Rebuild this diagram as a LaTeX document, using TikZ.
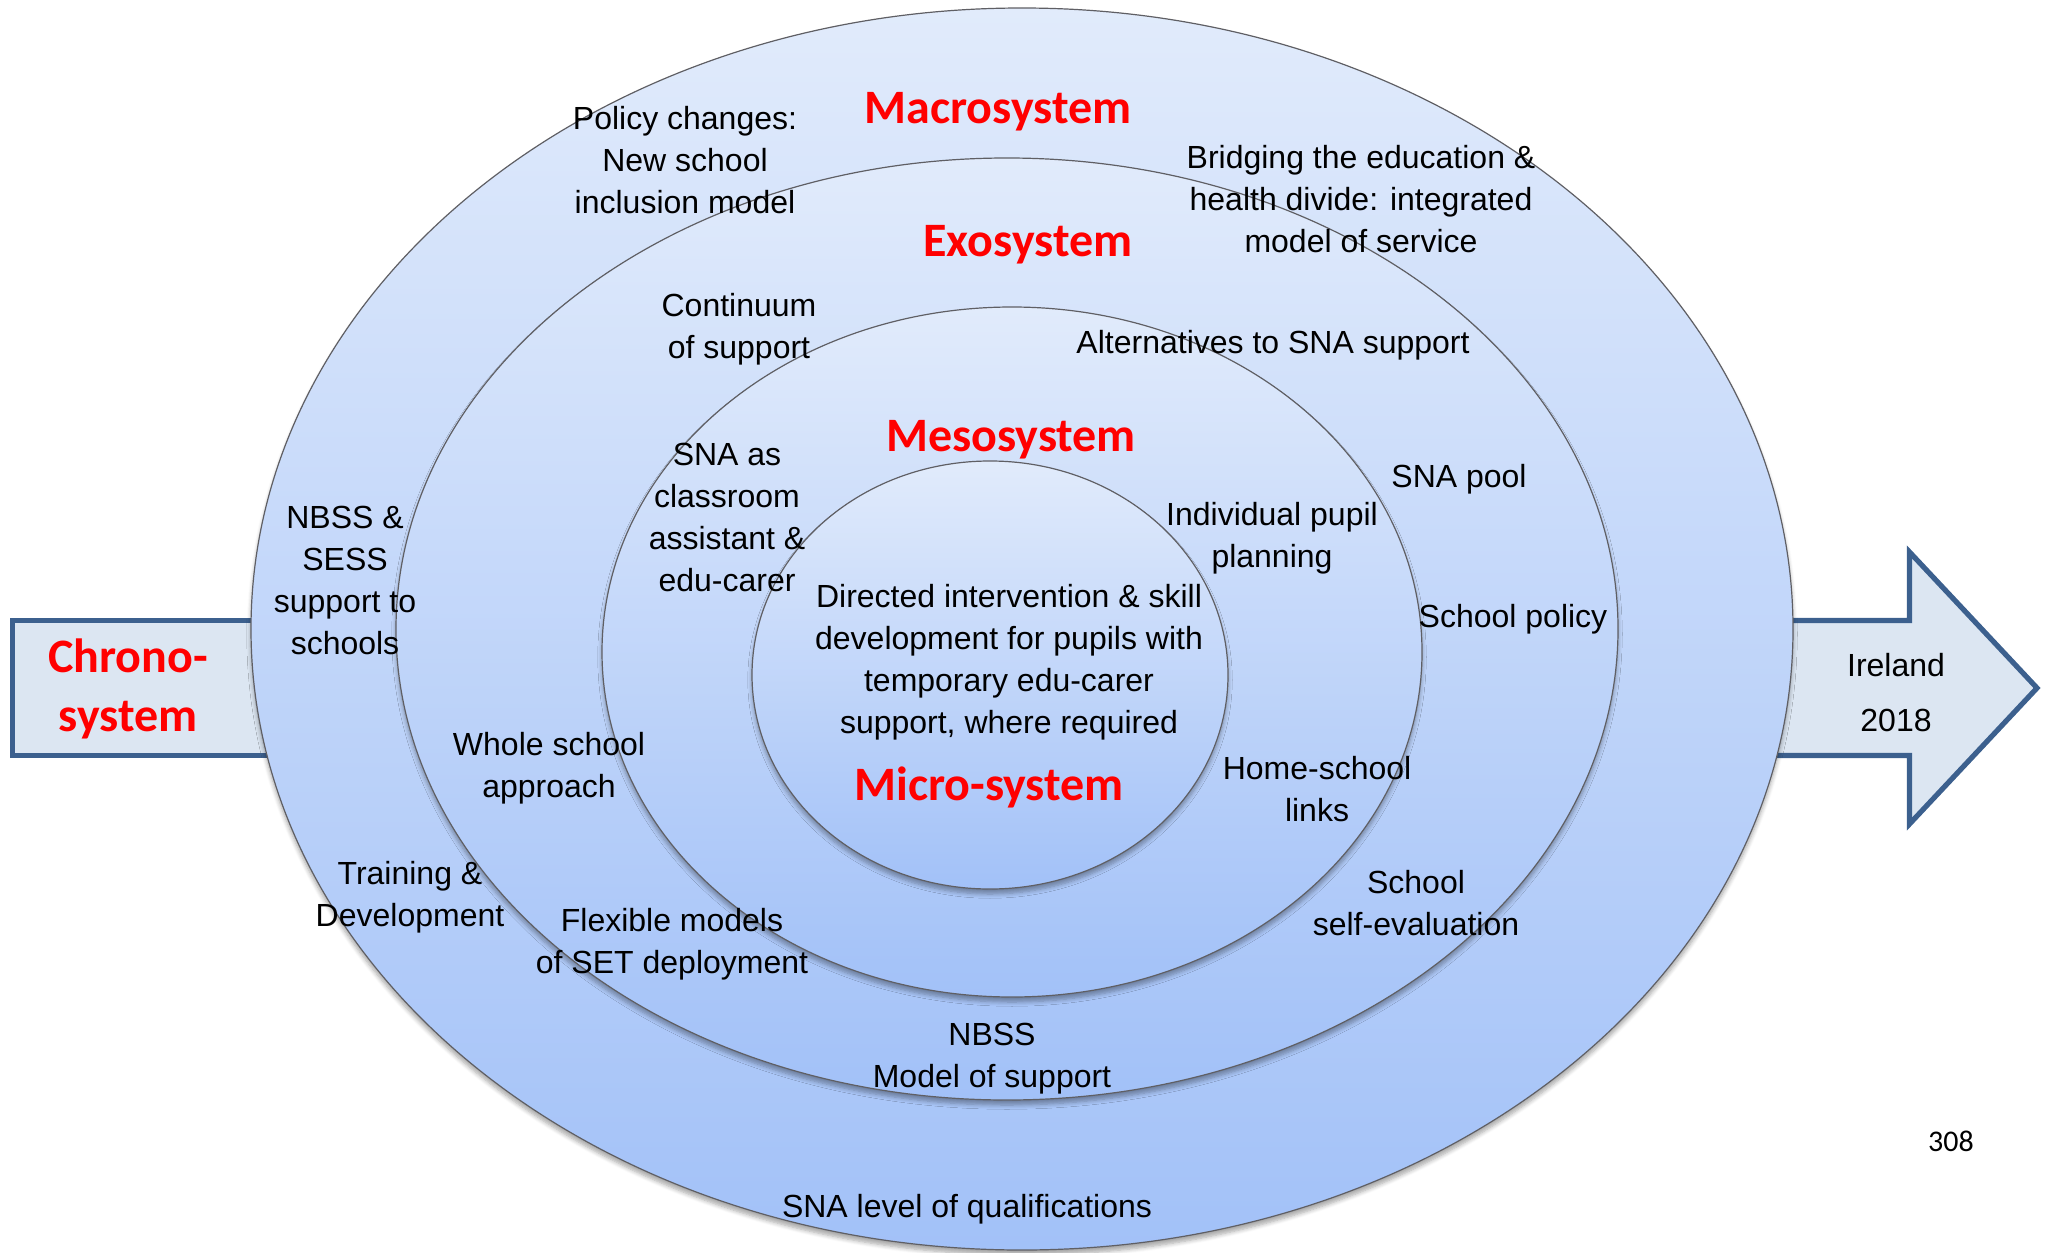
\documentclass[tikz,border=0pt]{standalone}
\usepackage{fontspec}
\setmainfont{Liberation Sans}
\newfontfamily\calibrifont{Carlito}
\usetikzlibrary{shadows.blur}
\definecolor{arrowblue}{RGB}{60,96,142}
\definecolor{arrowfill}{RGB}{220,230,242}
\definecolor{toplight}{RGB}{225,235,251}
\definecolor{botdark}{RGB}{162,193,248}
\definecolor{rimgray}{RGB}{95,95,100}
\definecolor{labelred}{RGB}{255,0,0}
\begin{document}
\begin{tikzpicture}[x=0.5pt,y=-0.5pt,
  ring/.style={draw=rimgray, line width=0.6pt, top color=toplight, bottom color=botdark,
    blur shadow={shadow xshift=0pt, shadow yshift=-2.5pt, shadow blur steps=6, shadow opacity=35}},
  chronoshape/.style={draw=arrowblue, line width=2.6pt, fill=arrowfill, line join=miter},
  body/.style={align=center, font=\fontsize{16}{21}\selectfont, inner sep=0pt, yshift=-1.2pt},
  sysname/.style={font=\calibrifont\bfseries\fontsize{24}{29.5}\selectfont, text=labelred, align=center, inner sep=0pt, yshift=-2.5pt}]

\useasboundingbox (0,0) rectangle (2054,1252);

% chronosystem box and time arrow
\path[chronoshape] (12.5,620.5) rectangle (420,755.5);
\path[chronoshape] (1700,620.5) -- (1909.5,620.5) -- (1909.5,552) -- (2037,688)
  -- (1909.5,824) -- (1909.5,755.5) -- (1700,755.5) -- cycle;

% nested systems
\path[ring] (1022,629) ellipse [x radius=385.5pt, y radius=310.5pt];
\path[ring] (1007,629) ellipse [x radius=305.5pt, y radius=235.5pt];
\path[ring] (1012,652) ellipse [x radius=205pt, y radius=172.5pt];
\path[ring] (990,675) ellipse [x radius=119pt, y radius=107pt];

% system names
\node[sysname] (chrono) at (128,684) {Chrono-\\system};
\node[sysname] (macro) at (998,107) {Macrosystem};
\node[sysname] (exo) at (1028,240) {Exosystem};
\node[sysname] (meso) at (1011,435) {Mesosystem};
\node[sysname] (micro) at (989,782) {Micro-system};

% content
\node[body] (policy) at (685,158) {Policy changes:\\New school\\inclusion model};
\node[body] (bridging) at (1361,197) {Bridging the education \&\\health divide: integrated\\model of service};
\node[body] (continuum) at (739,327) {Continuum\\of support};
\node[body] (altern) at (1273,343) {Alternatives to SNA support};
\node[body] (snapool) at (1459,477) {SNA pool};
\node[body] (nbsssess) at (345,578) {NBSS \&\\SESS\\support to\\schools};
\node[body] (snaclass) at (727,515) {SNA as\\classroom\\assistant \&\\edu-carer};
\node[body] (indiv) at (1272,536) {Individual pupil\\planning};
\node[body] (schpolicy) at (1513,617) {School policy};
\node[body] (directed) at (1009,660) {Directed intervention \& skill\\development for pupils with\\temporary edu-carer\\support, where required};
\node[body] (whole) at (549,766) {Whole school\\approach};
\node[body] (home) at (1317,787) {Home-school\\links};
\node[body] (training) at (410,895) {Training \&\\Development};
\node[body] (selfeval) at (1416,901) {School\\self-evaluation};
\node[body] (flexible) at (672,942) {Flexible models\\of SET deployment};
\node[body] (nbssmodel) at (992,1056) {NBSS\\Model of support};
\node[body] (snalevel) at (967,1207) {SNA level of qualifications};
\node[body, font=\fontsize{16}{27.5}\selectfont] (ireland) at (1896,690) {Ireland\\2018};
\node[inner sep=0pt, font=\calibrifont\fontsize{15}{18}\selectfont] (page) at (1951,1141) {308};
\end{tikzpicture}
\end{document}
